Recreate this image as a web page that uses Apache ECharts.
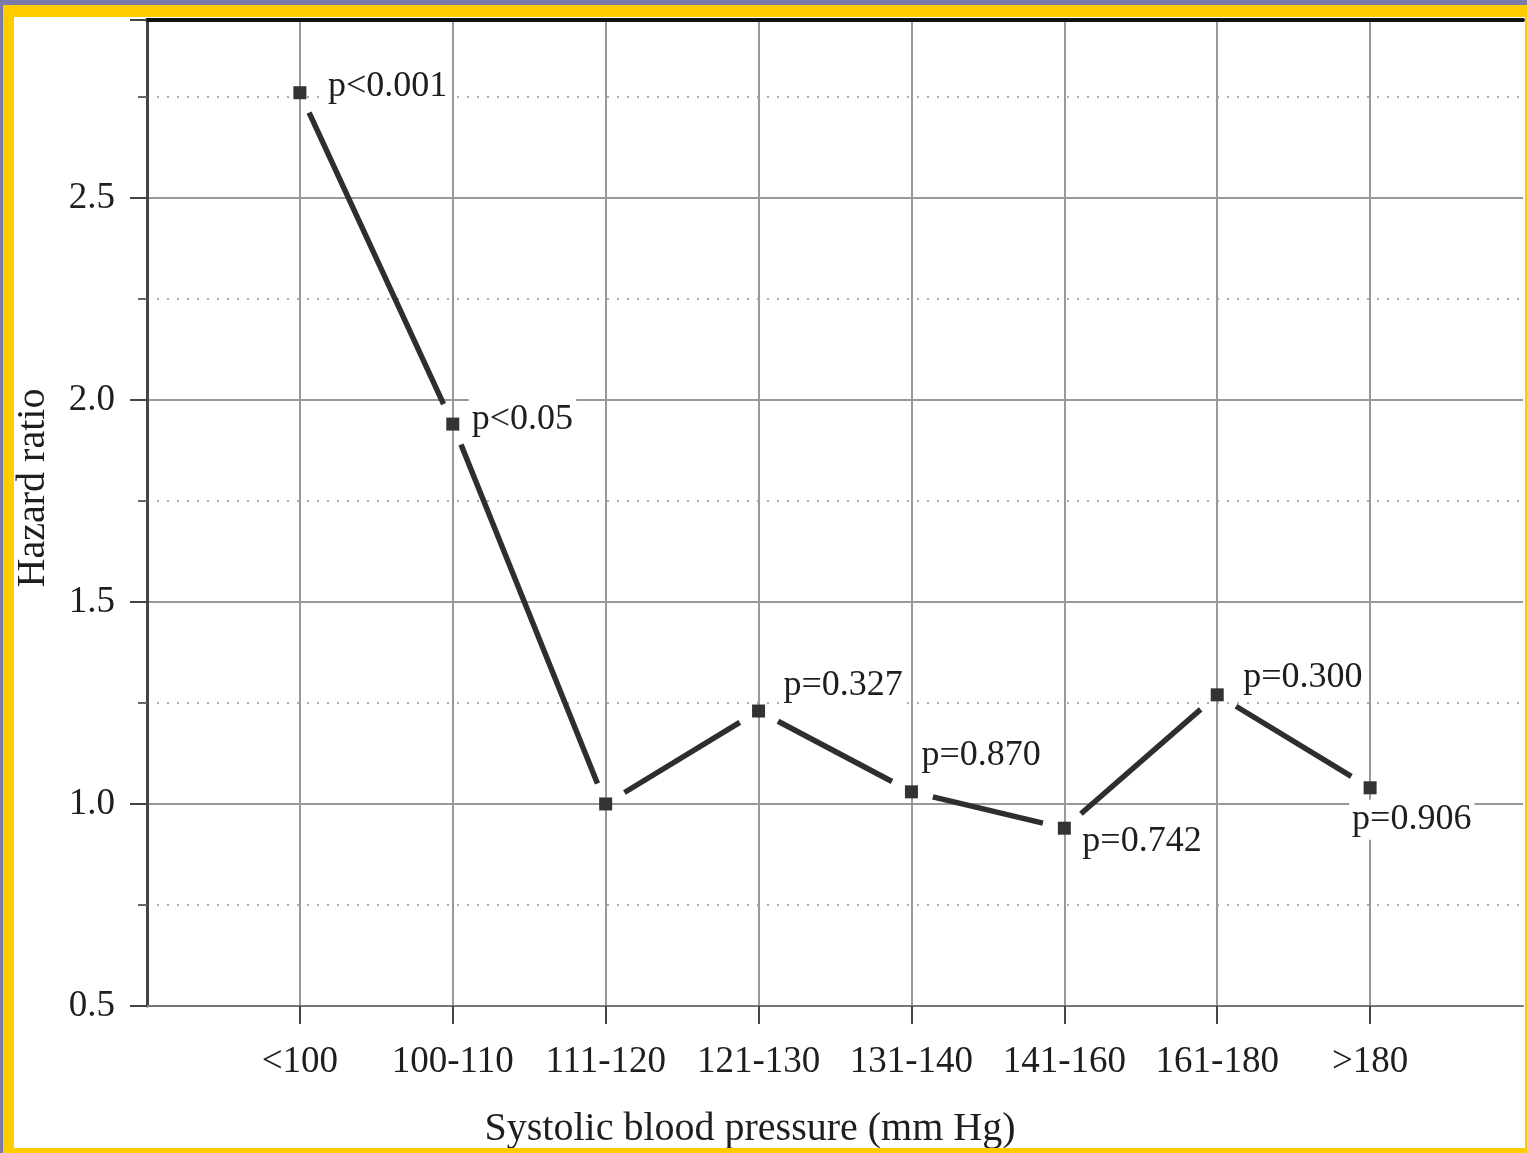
<!DOCTYPE html>
<html>
<head>
<meta charset="utf-8">
<script src="https://cdn.jsdelivr.net/npm/echarts@6/dist/echarts.min.js"></script>
<style>
  html, body { margin: 0; padding: 0; width: 1527px; height: 1153px; background: #7b7aa8; overflow: hidden; }
  #frame { position: absolute; left: 3px; top: 5px; width: 1524px; height: 1148px; background: #ffcc00; }
  #chart { position: absolute; left: 14px; top: 17px; width: 1511px; height: 1131px; background: #ffffff; }
</style>
</head>
<body>
<div id="frame"></div>
<div id="chart"></div>
<script>
const categories = ['<100', '100-110', '111-120', '121-130', '131-140', '141-160', '161-180', '>180'];
const hazardRatios = [2.76, 1.94, 1.00, 1.23, 1.03, 0.94, 1.27, 1.04];
const pLabels = ['p<0.001', 'p<0.05', '', 'p=0.327', 'p=0.870', 'p=0.742', 'p=0.300', 'p=0.906'];
const yTickLabels = ['0.5', '1.0', '1.5', '2.0', '2.5'];

// label placement (pixel offsets from marker centre: text left edge, vertical middle)
const labelOffsets = [[25, -6], [16, -5], [0, 0], [22, -25], [7, -36], [15, 13], [23, -17], [-21, 32]];

const FONT = "'Liberation Serif', 'DejaVu Serif', serif";
const TEXT = '#1e1e1e';

const points = hazardRatios.map((v, i) => [i + 1, v]);
const segments = [];
for (let i = 0; i < hazardRatios.length - 1; i++) {
  segments.push([i + 1, hazardRatios[i], i + 2, hazardRatios[i + 1]]);
}

const chart = echarts.init(document.getElementById('chart'));
chart.setOption({
  animation: false,
  grid: { left: 133, top: 3, right: 2, bottom: 142, containLabel: false, outerBoundsMode: 'none' },
  xAxis: [{
    type: 'value', min: 0, max: 9, interval: 1,
    axisLine: { show: true, lineStyle: { color: '#777', width: 2 } },
    axisTick: { show: true, length: 18, customValues: [1, 2, 3, 4, 5, 6, 7, 8], lineStyle: { color: '#444', width: 2 } },
    axisLabel: {
      show: true, margin: 38, customValues: [1, 2, 3, 4, 5, 6, 7, 8],
      formatter: v => categories[Math.round(v) - 1] || '',
      fontFamily: FONT, fontSize: 37, color: TEXT
    },
    splitLine: { show: true, lineStyle: { color: '#999', width: 2, type: 'solid' } },
    name: 'Systolic blood pressure (mm Hg)', nameLocation: 'middle', nameGap: 103,
    nameTextStyle: { fontFamily: FONT, fontSize: 40, color: TEXT, padding: [0, 170, 0, 0] }
  }, {
    type: 'value', min: 0, max: 9, position: 'top',
    axisLine: { show: true, lineStyle: { color: '#111', width: 4 } },
    axisTick: { show: false }, axisLabel: { show: false }, splitLine: { show: false }
  }],
  yAxis: [{
    type: 'value', min: 0.5, max: 2.94, interval: 0.25,
    position: 'left',
    axisLine: { show: false },
    axisTick: { show: true, length: 9, lineStyle: { color: '#666', width: 2 } },
    axisLabel: { show: false },
    splitLine: { show: true, lineStyle: { color: '#aaa', width: 2, type: [2, 8] } }
  }, {
    type: 'value', min: 0.5, max: 2.94, interval: 0.5,
    position: 'left',
    axisLine: { show: true, onZero: false, lineStyle: { color: '#444', width: 3 } },
    axisTick: { show: true, length: 17, lineStyle: { color: '#444', width: 2 } },
    axisLabel: {
      show: true, margin: 32, fontFamily: FONT, fontSize: 37, color: TEXT,
      formatter: v => { const s = v.toFixed(1); return yTickLabels.indexOf(s) >= 0 && Math.abs(v * 2 - Math.round(v * 2)) < 1e-6 ? s : ''; }
    },
    splitLine: { show: true, lineStyle: { color: '#999', width: 2, type: 'solid' } },
    name: 'Hazard ratio', nameLocation: 'middle', nameGap: 94,
    nameTextStyle: { fontFamily: FONT, fontSize: 40, color: TEXT, padding: [0, 0, 0, 50] }
  }],
  series: [{
    type: 'custom',
    xAxisIndex: 0, yAxisIndex: 1,
    data: segments,
    encode: { x: [0, 2], y: [1, 3] },
    renderItem: function (params, api) {
      const a = api.coord([api.value(0), api.value(1)]);
      const b = api.coord([api.value(2), api.value(3)]);
      const dx = b[0] - a[0], dy = b[1] - a[1];
      const len = Math.sqrt(dx * dx + dy * dy);
      const gap = 22;
      const ux = dx / len, uy = dy / len;
      return {
        type: 'line',
        shape: { x1: a[0] + ux * gap, y1: a[1] + uy * gap, x2: b[0] - ux * gap, y2: b[1] - uy * gap },
        style: { stroke: '#2e2e2e', lineWidth: 5.5, lineCap: 'butt' },
        z2: 5
      };
    },
    z: 3
  }, {
    type: 'scatter',
    xAxisIndex: 0, yAxisIndex: 1,
    symbol: 'rect', symbolSize: 13,
    itemStyle: { color: '#333', opacity: 1 },
    data: points.map((p, i) => ({
      value: p,
      label: {
        show: pLabels[i] !== '',
        formatter: pLabels[i],
        position: [6.5 + labelOffsets[i][0], 6.5 + labelOffsets[i][1]],
        align: 'left', verticalAlign: 'middle',
        color: TEXT, fontFamily: FONT, fontSize: 36,
        backgroundColor: '#fff', padding: [2, 3]
      }
    })),
    z: 4
  }]
});
</script>
</body>
</html>
